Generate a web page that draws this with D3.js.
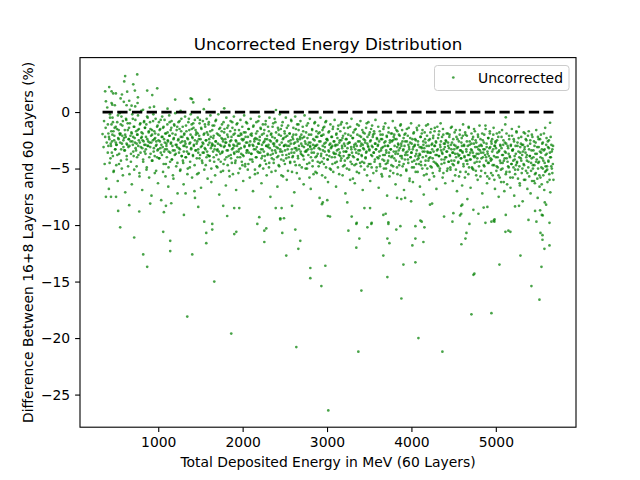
<!DOCTYPE html>
<html>
<head>
<meta charset="utf-8">
<script src="https://cdn.jsdelivr.net/npm/d3@7"></script>
<style>
  body { margin: 0; background: #fff; }
  text { font-family: "DejaVu Sans", sans-serif; }
</style>
</head>
<body>
<div id="chart"></div>
<script>
// values: [energy MeV, difference %]
const bandPoints = [
  [352,-3.1],[358,-0.8],[365,-4.6],[371,-2.2],[377,-1.4],[384,-5.9],[390,-2.7],[396,0.4],[402,-3.6],[409,-1.9],[415,-6.8],[421,-2.4],[428,-0.2],[434,-4.1],[440,-3.0],[446,-1.1],
  [452,-2.6],[458,-0.5],[463,-3.9],[469,-1.7],[474,-5.2],[480,-2.1],[486,0.6],[491,-3.3],[497,-1.3],[503,-4.7],[508,-2.9],[514,-0.9],[520,-6.1],[525,-2.3],[531,-1.6],[537,-3.7],[543,-0.1],[548,-2.0],
  [553,-1.9],[558,-4.3],[564,-0.4],[570,-2.8],[575,-1.2],[581,-5.6],[587,-2.5],[592,0.9],[598,-3.4],[604,-1.6],[609,-7.1],[615,-2.2],[621,-0.7],[626,-3.9],[632,-2.9],[638,-1.0],[643,-4.8],[649,-2.4],
  [654,-1.4],[659,-3.0],[665,0.2],[671,-2.1],[676,-4.4],[682,-1.8],[687,-6.4],[693,-2.6],[699,-0.6],[704,-3.5],[710,-1.3],[715,-5.1],[721,-2.3],[727,0.5],[732,-3.2],[738,-1.7],[744,-2.8],[749,-4.0],
  [754,-2.0],[760,-0.3],[765,-3.8],[771,-1.5],[777,-5.4],[782,-2.7],[788,-1.0],[793,-3.1],[799,0.1],[805,-2.2],[810,-6.9],[816,-1.9],[821,-4.2],[827,-2.6],[833,-0.8],[838,-3.5],[844,-1.4],[849,-2.9],
  [853,-3.3],[859,-1.1],[864,-4.9],[870,-2.4],[875,-0.5],[881,-3.0],[887,-1.8],[892,-5.8],[898,-2.7],[903,-0.9],[909,-3.7],[915,-2.1],[920,-7.4],[926,-1.6],[931,-4.3],[937,-2.5],[942,-0.2],[948,-3.2],
  [953,-1.7],[958,-3.9],[964,-2.3],[969,-0.6],[975,-5.2],[980,-2.9],[986,-1.3],[991,-3.4],[997,-6.3],[1002,-2.0],[1008,-0.9],[1013,-4.1],[1019,-2.6],[1024,-1.5],[1030,-3.6],[1035,-7.8],[1041,-2.2],[1047,-0.4],
  [1053,-3.1],[1058,-1.4],[1064,-4.6],[1069,-2.4],[1075,-0.7],[1080,-3.3],[1086,-5.7],[1091,-1.9],[1097,-2.8],[1102,-4.0],[1108,-1.1],[1113,-2.5],[1119,-6.6],[1124,-3.5],[1130,-0.3],[1135,-2.1],[1141,-4.4],[1147,-1.6],
  [1152,-2.7],[1158,-0.8],[1163,-4.2],[1169,-1.9],[1174,-3.4],[1180,-5.9],[1185,-2.3],[1191,-1.2],[1196,-3.8],[1202,-0.1],[1207,-2.9],[1213,-4.8],[1218,-1.6],[1224,-3.1],[1229,-7.2],[1235,-2.5],[1240,-0.9],[1246,-3.6],
  [1252,-1.5],[1257,-3.3],[1263,-5.1],[1268,-2.2],[1274,-0.6],[1279,-3.9],[1285,-2.6],[1290,-1.3],[1296,-4.5],[1301,-6.4],[1307,-2.0],[1312,-3.0],[1318,-0.4],[1323,-2.8],[1329,-4.0],[1334,-1.7],[1340,-3.5],[1346,-5.5],
  [1352,-2.4],[1357,-0.9],[1363,-3.7],[1368,-1.6],[1374,-4.9],[1379,-2.7],[1385,-0.2],[1390,-3.2],[1396,-1.1],[1401,-5.8],[1407,-2.3],[1412,-3.9],[1418,-1.4],[1423,-2.9],[1429,-7.0],[1434,-0.7],[1440,-3.4],[1446,-2.0],
  [1452,-1.8],[1457,-4.1],[1463,-2.6],[1468,-0.5],[1474,-3.3],[1479,-5.4],[1485,-2.1],[1490,-1.0],[1496,-3.8],[1501,-2.4],[1507,-6.7],[1512,-1.5],[1518,-3.0],[1523,-4.5],[1529,-0.8],[1534,-2.8],[1540,-3.6],[1546,-1.9],
  [1552,-3.2],[1557,-1.3],[1563,-4.7],[1568,-2.5],[1574,-0.6],[1579,-3.5],[1585,-5.9],[1590,-2.0],[1596,-1.1],[1601,-3.9],[1607,-2.7],[1612,-4.3],[1618,-0.3],[1623,-2.2],[1629,-6.2],[1634,-3.0],[1640,-1.6],[1646,-2.9],
  [1652,-2.3],[1657,-4.0],[1663,-1.2],[1668,-3.3],[1674,-5.6],[1679,-2.6],[1685,-0.7],[1690,-3.8],[1696,-1.9],[1701,-4.9],[1707,-2.8],[1712,-0.2],[1718,-3.5],[1723,-7.3],[1729,-2.1],[1734,-1.4],[1740,-4.4],[1746,-3.0],
  [1752,-1.7],[1757,-3.6],[1763,-2.4],[1768,-5.2],[1774,-0.9],[1779,-3.1],[1785,-1.5],[1790,-4.2],[1796,-2.7],[1801,-6.5],[1807,-0.5],[1812,-3.4],[1818,-2.0],[1823,-4.7],[1829,-1.2],[1834,-3.9],[1840,-2.9],[1846,-5.7],
  [1852,-2.6],[1857,-0.8],[1863,-4.1],[1868,-2.2],[1874,-3.3],[1879,-1.4],[1885,-5.5],[1890,-2.9],[1896,-0.4],[1901,-3.7],[1907,-1.9],[1912,-4.5],[1918,-2.5],[1923,-6.9],[1929,-1.1],[1934,-3.0],[1940,-4.0],[1946,-2.1],
  [1952,-3.5],[1957,-1.6],[1963,-2.8],[1968,-5.0],[1974,-0.7],[1979,-3.2],[1985,-2.0],[1990,-4.4],[1996,-1.3],[2001,-3.8],[2007,-6.1],[2012,-2.4],[2018,-0.3],[2023,-3.0],[2029,-4.8],[2034,-1.8],[2040,-2.7],[2046,-3.6],
  [2052,-1.0],[2057,-3.4],[2063,-2.2],[2068,-4.6],[2074,-1.5],[2079,-3.0],[2085,-5.8],[2090,-2.6],[2096,-0.6],[2101,-3.7],[2107,-1.9],[2112,-4.2],[2118,-2.9],[2123,-7.0],[2129,-1.2],[2134,-3.3],[2140,-2.4],[2146,-5.1],
  [2152,-2.3],[2157,-4.0],[2163,-0.9],[2168,-3.1],[2174,-1.7],[2179,-5.4],[2185,-2.8],[2190,-3.6],[2196,-0.4],[2201,-2.5],[2207,-4.7],[2212,-1.4],[2218,-3.3],[2223,-6.3],[2229,-2.0],[2234,-3.9],[2240,-1.1],[2246,-2.7],
  [2252,-3.5],[2257,-1.6],[2263,-4.3],[2268,-2.4],[2274,-0.8],[2279,-3.0],[2285,-5.6],[2290,-2.1],[2296,-3.8],[2301,-1.3],[2307,-2.9],[2312,-4.9],[2318,-0.5],[2323,-3.2],[2329,-7.5],[2334,-2.6],[2340,-1.9],[2346,-4.1],
  [2352,-2.2],[2357,-3.7],[2363,-1.0],[2368,-4.5],[2374,-2.8],[2379,-0.6],[2385,-3.4],[2390,-5.2],[2396,-1.8],[2401,-3.1],[2407,-2.5],[2412,-6.6],[2418,-1.4],[2423,-3.9],[2429,-2.0],[2434,-4.8],[2440,-0.2],[2446,-3.3],
  [2452,-1.5],[2457,-4.2],[2463,-2.7],[2468,-3.5],[2474,-0.9],[2479,-5.7],[2485,-2.3],[2490,-3.0],[2496,-1.7],[2501,-4.6],[2507,-2.9],[2512,-0.5],[2518,-3.8],[2523,-6.0],[2529,-2.1],[2534,-3.3],[2540,-1.2],[2546,-4.0],
  [2552,-3.0],[2557,-1.9],[2563,-4.4],[2568,-2.5],[2574,-0.7],[2579,-3.6],[2585,-5.3],[2590,-2.2],[2596,-3.9],[2601,-1.4],[2607,-2.8],[2612,-7.1],[2618,-3.2],[2623,-0.4],[2629,-4.7],[2634,-2.0],[2640,-3.4],[2646,-1.1],
  [2652,-2.6],[2657,-4.1],[2663,-1.6],[2668,-3.3],[2674,-5.9],[2679,-2.4],[2685,-0.8],[2690,-3.7],[2696,-2.0],[2701,-4.9],[2707,-3.0],[2712,-1.3],[2718,-3.9],[2723,-6.4],[2729,-2.2],[2734,-0.3],[2740,-3.5],[2746,-2.8],
  [2752,-1.8],[2757,-3.4],[2763,-5.0],[2768,-2.3],[2774,-1.0],[2779,-3.8],[2785,-2.7],[2790,-4.5],[2796,-0.6],[2801,-3.1],[2807,-6.8],[2812,-2.0],[2818,-3.6],[2823,-1.5],[2829,-4.3],[2834,-2.9],[2840,-5.5],[2846,-3.2],
  [2852,-2.5],[2857,-0.9],[2863,-4.0],[2868,-3.0],[2874,-1.7],[2879,-5.4],[2885,-2.2],[2890,-3.7],[2896,-1.2],[2901,-4.8],[2907,-2.6],[2912,-7.6],[2918,-3.3],[2923,-0.5],[2929,-3.9],[2934,-2.1],[2940,-4.4],[2946,-1.6],
  [2952,-3.4],[2957,-2.0],[2963,-4.6],[2968,-1.3],[2974,-3.1],[2979,-5.8],[2985,-2.7],[2990,-0.8],[2996,-3.8],[3001,-2.4],[3007,-4.2],[3012,-6.2],[3018,-1.8],[3023,-3.5],[3029,-2.9],[3034,-5.0],[3040,-1.1],[3046,-3.2],
  [3052,-2.2],[3057,-4.0],[3063,-3.0],[3068,-1.5],[3074,-5.3],[3079,-2.6],[3085,-3.7],[3090,-0.7],[3096,-4.5],[3101,-2.9],[3107,-6.6],[3112,-1.9],[3118,-3.4],[3123,-2.3],[3129,-4.9],[3134,-1.2],[3140,-3.8],[3146,-2.7],
  [3152,-3.6],[3157,-1.7],[3163,-4.3],[3168,-2.5],[3174,-0.9],[3179,-3.2],[3185,-5.6],[3190,-2.1],[3196,-3.9],[3201,-1.4],[3207,-4.7],[3212,-3.0],[3218,-7.2],[3223,-2.4],[3229,-3.5],[3234,-1.0],[3240,-4.1],[3246,-2.8],
  [3252,-2.0],[3257,-3.8],[3263,-5.1],[3268,-2.7],[3274,-1.3],[3279,-4.4],[3285,-3.1],[3290,-0.6],[3296,-3.6],[3301,-2.3],[3307,-5.9],[3312,-1.8],[3318,-4.0],[3323,-2.9],[3329,-6.3],[3334,-3.3],[3340,-1.5],[3346,-4.6],
  [3352,-3.0],[3357,-1.1],[3363,-4.2],[3368,-2.6],[3374,-3.7],[3379,-5.4],[3385,-2.1],[3390,-3.4],[3396,-0.8],[3401,-4.8],[3407,-2.8],[3412,-3.9],[3418,-1.6],[3423,-6.9],[3429,-3.2],[3434,-2.4],[3440,-4.5],[3446,-1.9],
  [3452,-2.7],[3457,-4.1],[3463,-1.4],[3468,-3.5],[3474,-5.6],[3479,-2.2],[3485,-3.0],[3490,-0.9],[3496,-4.6],[3501,-3.3],[3507,-1.8],[3512,-6.1],[3518,-2.5],[3523,-3.8],[3529,-4.9],[3534,-1.2],[3540,-3.1],[3546,-2.0],
  [3552,-3.6],[3557,-1.7],[3563,-4.4],[3568,-2.8],[3574,-0.7],[3579,-3.3],[3585,-5.2],[3590,-2.3],[3596,-4.0],[3601,-3.0],[3607,-1.3],[3612,-6.7],[3618,-2.6],[3623,-3.9],[3629,-4.8],[3634,-2.0],[3640,-3.4],[3646,-5.5],
  [3652,-2.4],[3657,-4.2],[3663,-3.1],[3668,-1.5],[3674,-5.0],[3679,-2.7],[3685,-3.8],[3690,-1.0],[3696,-4.6],[3701,-3.4],[3707,-2.1],[3712,-7.4],[3718,-3.0],[3723,-4.3],[3729,-1.8],[3734,-3.6],[3740,-5.7],[3746,-2.5],
  [3752,-3.3],[3757,-1.9],[3763,-4.7],[3768,-2.6],[3774,-3.9],[3779,-0.8],[3785,-5.4],[3790,-2.2],[3796,-4.1],[3801,-3.0],[3807,-1.4],[3812,-6.4],[3818,-3.5],[3823,-2.4],[3829,-4.9],[3834,-1.7],[3840,-3.7],[3846,-2.9],
  [3852,-2.0],[3857,-4.4],[3863,-3.2],[3868,-1.2],[3874,-5.6],[3879,-2.8],[3885,-3.9],[3890,-1.6],[3896,-4.8],[3901,-3.4],[3907,-2.3],[3912,-6.9],[3918,-3.0],[3923,-4.2],[3929,-1.9],[3934,-3.6],[3940,-5.2],[3946,-2.6],
  [3952,-3.8],[3957,-2.1],[3963,-4.5],[3968,-1.4],[3974,-3.3],[3979,-5.9],[3985,-2.7],[3990,-4.0],[3996,-1.0],[4001,-3.6],[4007,-4.9],[4012,-2.4],[4018,-6.2],[4023,-3.1],[4029,-1.8],[4034,-4.3],[4040,-2.9],[4046,-3.9],
  [4052,-2.5],[4057,-4.6],[4063,-3.4],[4068,-1.6],[4074,-5.3],[4079,-2.9],[4085,-4.1],[4090,-1.2],[4096,-3.7],[4101,-6.6],[4107,-2.2],[4112,-4.4],[4118,-3.1],[4123,-1.9],[4129,-5.0],[4134,-3.5],[4140,-2.6],[4146,-7.3],
  [4152,-3.2],[4157,-1.8],[4163,-4.7],[4168,-2.7],[4174,-3.9],[4179,-5.5],[4185,-2.1],[4190,-3.5],[4196,-1.1],[4201,-4.3],[4207,-3.0],[4212,-6.0],[4218,-2.4],[4223,-4.0],[4229,-3.6],[4234,-1.5],[4240,-4.9],[4246,-2.8],
  [4252,-4.1],[4257,-2.3],[4263,-3.5],[4268,-5.7],[4274,-1.7],[4279,-3.0],[4285,-4.5],[4290,-2.6],[4296,-6.8],[4301,-3.8],[4307,-1.3],[4312,-3.3],[4318,-4.8],[4323,-2.0],[4329,-3.9],[4334,-5.2],[4340,-2.9],[4346,-1.0],
  [4352,-3.4],[4357,-4.6],[4363,-2.2],[4368,-3.7],[4374,-1.5],[4379,-5.4],[4385,-2.8],[4390,-4.2],[4396,-3.1],[4401,-6.3],[4407,-2.5],[4412,-4.0],[4418,-1.9],[4423,-3.5],[4429,-5.0],[4434,-2.7],[4440,-4.4],[4446,-3.2],
  [4452,-2.0],[4457,-3.9],[4463,-5.1],[4468,-2.9],[4474,-4.3],[4479,-1.3],[4485,-3.6],[4490,-6.1],[4496,-2.4],[4501,-4.7],[4507,-3.3],[4512,-1.8],[4518,-5.6],[4523,-3.0],[4529,-4.0],[4534,-2.2],[4540,-7.0],[4546,-3.7],
  [4552,-3.1],[4557,-4.4],[4563,-2.6],[4568,-3.8],[4574,-1.6],[4579,-5.3],[4585,-3.4],[4590,-4.1],[4596,-2.3],[4601,-6.5],[4607,-3.6],[4612,-1.1],[4618,-4.8],[4623,-2.9],[4629,-3.9],[4634,-5.8],[4640,-2.0],[4646,-4.3],
  [4652,-3.5],[4657,-2.1],[4663,-4.6],[4668,-3.0],[4674,-5.5],[4679,-1.4],[4685,-3.8],[4690,-2.6],[4696,-4.2],[4701,-6.7],[4707,-3.3],[4712,-1.9],[4718,-4.9],[4723,-2.4],[4729,-3.6],[4734,-5.1],[4740,-2.8],[4746,-4.0],
  [4752,-1.7],[4757,-3.9],[4763,-5.2],[4768,-2.7],[4774,-4.4],[4779,-3.1],[4785,-6.0],[4790,-2.2],[4796,-3.7],[4801,-4.8],[4807,-1.2],[4812,-3.4],[4818,-5.7],[4823,-2.9],[4829,-4.1],[4834,-3.0],[4840,-7.2],[4846,-2.5],
  [4852,-3.6],[4857,-4.7],[4863,-2.0],[4868,-3.3],[4874,-5.4],[4879,-1.5],[4885,-4.0],[4890,-2.8],[4896,-6.3],[4901,-3.5],[4907,-4.5],[4912,-2.3],[4918,-3.9],[4923,-5.9],[4929,-1.9],[4934,-3.1],[4940,-4.3],[4946,-2.6],
  [4952,-4.2],[4957,-2.4],[4963,-5.6],[4968,-3.3],[4974,-1.4],[4979,-4.7],[4985,-3.0],[4990,-6.8],[4996,-2.7],[5001,-4.0],[5007,-5.2],[5012,-1.9],[5018,-3.6],[5023,-4.9],[5029,-2.2],[5034,-7.5],[5040,-3.4],[5046,-5.8],
  [5052,-2.9],[5057,-4.5],[5063,-6.2],[5068,-3.2],[5074,-1.6],[5079,-5.0],[5085,-3.8],[5090,-2.5],[5096,-4.3],[5101,-7.0],[5107,-3.5],[5112,-1.1],[5118,-5.5],[5123,-2.8],[5129,-4.1],[5134,-6.4],[5140,-3.0],[5146,-4.8],
  [5152,-3.7],[5157,-2.1],[5163,-5.3],[5168,-4.0],[5174,-6.7],[5179,-2.9],[5185,-4.6],[5190,-1.5],[5196,-3.4],[5201,-5.8],[5207,-4.3],[5212,-2.4],[5218,-7.4],[5223,-3.9],[5229,-5.1],[5234,-3.0],[5240,-4.7],[5246,-1.8],
  [5252,-4.4],[5257,-2.7],[5263,-5.9],[5268,-3.5],[5274,-1.3],[5279,-4.8],[5285,-6.5],[5290,-3.1],[5296,-4.1],[5301,-2.2],[5307,-5.4],[5312,-3.8],[5318,-7.9],[5323,-2.9],[5329,-4.6],[5334,-6.0],[5340,-3.3],[5346,-1.9],
  [5352,-3.6],[5357,-5.2],[5363,-2.5],[5368,-4.3],[5374,-6.8],[5379,-3.0],[5385,-4.9],[5390,-1.7],[5396,-5.7],[5401,-3.9],[5407,-2.8],[5412,-7.2],[5418,-4.5],[5423,-3.4],[5429,-6.1],[5434,-2.2],[5440,-5.0],[5446,-4.0],
  [5452,-2.6],[5457,-4.7],[5463,-6.3],[5468,-3.7],[5474,-5.4],[5479,-1.6],[5485,-4.2],[5490,-3.1],[5496,-7.6],[5501,-5.0],[5507,-2.4],[5512,-4.4],[5518,-6.6],[5523,-3.5],[5529,-5.8],[5534,-2.0],[5540,-4.9],[5546,-3.3],
  [5552,-4.1],[5557,-2.7],[5563,-5.6],[5568,-3.4],[5574,-6.9],[5579,-4.5],[5585,-1.4],[5590,-3.8],[5596,-5.2],[5601,-2.3],[5607,-4.8],[5612,-6.2],[5618,-3.1],[5623,-4.3],[5629,-2.5],[5634,-5.5],[5640,-3.6],[5646,-7.1],
  [5652,-4.0],[5658,-2.9],[5664,-5.0],[5670,-3.3],[5676,-4.6],[5683,-6.0]
];

// the dense core of the band
const corePoints = [
  [403,-1.1],[409,-3.0],[416,-2.2],[424,-4.5],[429,-0.5],[437,-2.8],[444,-1.7],[450,-3.6],[457,-2.0],[463,-0.9],[470,-5.3],[478,-2.5],[483,-1.4],[490,-3.3],[497,-2.7],
  [502,-2.9],[511,-1.5],[515,-3.8],[522,-0.3],[531,-2.4],[535,-4.6],[542,-1.9],[549,-2.7],[555,-1.1],[561,-3.3],[568,-5.0],[574,-2.1],[581,-0.8],[588,-3.1],[594,-2.3],
  [605,-3.4],[608,-2.0],[618,-0.6],[625,-2.8],[627,-4.2],[639,-1.6],[646,-3.1],[653,-2.4],[659,-5.5],[664,-1.0],[672,-2.6],[677,-3.7],[686,-1.9],[692,-0.2],[699,-2.9],
  [703,-2.2],[709,-3.9],[716,-1.3],[724,-2.7],[729,-0.7],[737,-3.4],[744,-4.8],[750,-2.0],[757,-1.6],[763,-3.0],[770,-2.5],[778,-5.7],[783,-1.1],[790,-3.6],[797,-2.3],
  [802,-1.8],[811,-3.2],[815,-2.5],[822,-4.4],[831,-0.9],[835,-2.9],[842,-1.4],[849,-3.7],[855,-2.2],[861,-5.1],[868,-0.4],[874,-3.0],[881,-2.6],[888,-1.7],[894,-4.0],
  [905,-3.1],[908,-1.5],[918,-2.7],[925,-4.3],[927,-2.0],[939,-0.8],[946,-3.5],[953,-2.4],[959,-5.4],[964,-1.9],[972,-3.0],[977,-2.6],[986,-4.0],[992,-1.2],[999,-3.3],
  [1003,-2.5],[1009,-4.1],[1016,-1.6],[1024,-3.2],[1029,-0.7],[1037,-2.9],[1044,-3.8],[1050,-2.2],[1057,-5.3],[1063,-1.3],[1070,-3.5],[1078,-2.7],[1083,-1.9],[1090,-4.6],[1097,-3.0],
  [1102,-3.3],[1111,-1.8],[1115,-2.6],[1122,-4.9],[1131,-2.1],[1135,-0.9],[1142,-3.6],[1149,-2.8],[1155,-1.4],[1161,-4.2],[1168,-3.0],[1174,-5.6],[1181,-2.4],[1188,-1.1],[1194,-3.4],
  [1205,-2.0],[1208,-3.7],[1218,-2.9],[1225,-1.3],[1227,-4.5],[1239,-2.4],[1246,-3.2],[1253,-0.8],[1259,-5.2],[1264,-2.7],[1272,-1.7],[1277,-3.9],[1286,-2.2],[1292,-4.3],[1299,-3.0],
  [1303,-3.5],[1309,-1.9],[1316,-2.6],[1324,-4.0],[1329,-1.2],[1337,-3.1],[1344,-2.3],[1350,-5.0],[1357,-3.7],[1363,-0.6],[1370,-2.8],[1378,-4.4],[1383,-2.0],[1390,-3.3],[1397,-1.5],
  [1402,-2.2],[1411,-3.8],[1415,-1.0],[1422,-3.0],[1431,-4.7],[1435,-2.5],[1442,-1.6],[1449,-3.4],[1455,-2.8],[1461,-5.5],[1468,-1.9],[1474,-3.6],[1481,-2.4],[1488,-4.1],[1494,-0.7],
  [1505,-3.1],[1508,-1.4],[1518,-4.3],[1525,-2.7],[1527,-3.6],[1539,-2.0],[1546,-5.1],[1553,-1.1],[1559,-3.3],[1564,-2.5],[1572,-4.0],[1577,-1.8],[1586,-3.8],[1592,-2.9],[1599,-0.9],
  [1603,-2.4],[1609,-3.9],[1616,-1.7],[1624,-3.2],[1629,-5.0],[1637,-2.8],[1644,-1.2],[1650,-3.5],[1657,-2.1],[1663,-4.4],[1670,-3.0],[1678,-0.8],[1683,-2.6],[1690,-4.8],[1697,-3.4],
  [1702,-3.3],[1711,-2.0],[1715,-4.2],[1722,-1.5],[1731,-2.9],[1735,-3.7],[1742,-5.3],[1749,-2.3],[1755,-1.1],[1761,-3.5],[1768,-2.6],[1774,-4.6],[1781,-1.8],[1788,-3.0],[1794,-2.4],
  [1805,-2.7],[1808,-4.0],[1818,-1.4],[1825,-3.4],[1827,-2.2],[1839,-5.2],[1846,-3.0],[1853,-1.7],[1859,-3.8],[1864,-2.5],[1872,-4.5],[1877,-0.9],[1886,-3.2],[1892,-2.0],[1899,-3.6],
  [1903,-3.0],[1909,-1.6],[1916,-4.3],[1924,-2.6],[1929,-3.5],[1937,-1.0],[1944,-2.8],[1950,-5.4],[1957,-3.3],[1963,-2.1],[1970,-4.0],[1978,-1.9],[1983,-3.7],[1990,-2.4],[1997,-4.7],
  [2002,-2.5],[2011,-3.9],[2015,-1.8],[2022,-3.1],[2031,-4.6],[2035,-2.2],[2042,-0.9],[2049,-3.4],[2055,-2.7],[2061,-5.1],[2068,-1.5],[2074,-3.6],[2081,-2.9],[2088,-4.2],[2094,-2.0],
  [2105,-3.7],[2108,-2.1],[2118,-4.4],[2125,-1.3],[2127,-3.0],[2139,-2.6],[2146,-5.5],[2153,-3.3],[2159,-1.9],[2164,-4.0],[2172,-2.4],[2177,-3.5],[2186,-0.8],[2192,-2.8],[2199,-4.8],
  [2203,-2.2],[2209,-3.6],[2216,-1.5],[2224,-4.1],[2229,-2.9],[2237,-3.3],[2244,-5.0],[2250,-1.9],[2257,-2.6],[2263,-3.9],[2270,-1.1],[2278,-4.6],[2283,-3.0],[2290,-2.4],[2297,-3.7],
  [2302,-3.1],[2311,-1.7],[2315,-4.5],[2322,-2.5],[2331,-3.8],[2335,-2.0],[2342,-5.3],[2349,-3.4],[2355,-1.3],[2361,-2.8],[2368,-4.2],[2374,-3.0],[2381,-2.3],[2388,-0.9],[2394,-3.6],
  [2405,-2.6],[2408,-4.0],[2418,-3.2],[2425,-1.6],[2427,-4.7],[2439,-2.9],[2446,-3.5],[2453,-2.1],[2459,-5.6],[2464,-1.2],[2472,-3.8],[2477,-2.4],[2486,-4.3],[2492,-3.0],[2499,-1.9],
  [2503,-3.4],[2509,-2.2],[2516,-4.1],[2524,-1.4],[2529,-3.0],[2537,-5.2],[2544,-2.6],[2550,-3.7],[2557,-1.9],[2563,-4.5],[2570,-2.8],[2578,-0.8],[2583,-3.3],[2590,-4.0],[2597,-2.4],
  [2602,-2.0],[2611,-3.6],[2615,-4.4],[2622,-2.7],[2631,-1.5],[2635,-3.2],[2642,-5.4],[2649,-2.4],[2655,-3.9],[2661,-1.1],[2668,-3.0],[2674,-4.7],[2681,-2.2],[2688,-3.5],[2694,-2.8],
  [2705,-3.8],[2708,-2.3],[2718,-1.7],[2725,-4.2],[2727,-3.1],[2739,-2.6],[2746,-5.0],[2753,-3.5],[2759,-1.2],[2764,-4.6],[2772,-2.9],[2777,-3.3],[2786,-2.0],[2792,-5.8],[2799,-3.0],
  [2803,-2.7],[2809,-4.0],[2816,-3.3],[2824,-1.6],[2829,-4.8],[2837,-2.4],[2844,-3.6],[2850,-1.0],[2857,-3.0],[2863,-5.3],[2870,-2.2],[2878,-3.9],[2883,-2.9],[2890,-4.4],[2897,-1.9],
  [2902,-3.2],[2911,-1.8],[2915,-4.5],[2922,-2.6],[2931,-3.7],[2935,-2.1],[2942,-5.6],[2949,-3.0],[2955,-1.4],[2961,-4.1],[2968,-2.8],[2974,-3.5],[2981,-0.9],[2988,-4.9],[2994,-2.4],
  [3005,-2.5],[3008,-4.2],[3018,-3.4],[3025,-1.7],[3027,-3.9],[3039,-2.8],[3046,-5.1],[3053,-3.1],[3059,-2.2],[3064,-4.6],[3072,-1.3],[3077,-3.6],[3086,-2.6],[3092,-4.0],[3099,-3.0],
  [3103,-3.7],[3109,-2.0],[3116,-4.4],[3124,-2.9],[3129,-1.5],[3137,-3.3],[3144,-5.5],[3150,-2.5],[3157,-3.9],[3163,-1.1],[3170,-4.1],[3178,-3.0],[3183,-2.3],[3190,-4.8],[3197,-3.5],
  [3202,-2.8],[3211,-4.3],[3215,-1.9],[3222,-3.5],[3231,-2.4],[3235,-5.0],[3242,-3.2],[3249,-1.4],[3255,-4.0],[3261,-2.7],[3268,-3.8],[3274,-6.0],[3281,-2.1],[3288,-3.3],[3294,-4.6],
  [3305,-3.9],[3308,-2.3],[3318,-3.1],[3325,-4.7],[3327,-1.6],[3339,-2.8],[3346,-3.6],[3353,-5.3],[3359,-2.0],[3364,-4.2],[3372,-3.4],[3377,-1.2],[3386,-2.6],[3392,-4.5],[3399,-3.0],
  [3403,-2.2],[3409,-3.8],[3416,-4.4],[3424,-2.9],[3429,-1.8],[3437,-3.3],[3444,-5.1],[3450,-2.5],[3457,-4.0],[3463,-3.6],[3470,-1.0],[3478,-2.8],[3483,-4.8],[3490,-3.1],[3497,-2.0],
  [3502,-3.4],[3511,-2.6],[3515,-4.6],[3522,-1.5],[3531,-3.0],[3535,-3.9],[3542,-2.2],[3549,-5.4],[3555,-3.6],[3561,-1.9],[3568,-4.2],[3574,-2.8],[3581,-3.3],[3588,-4.9],[3594,-2.4],
  [3605,-2.9],[3608,-4.1],[3618,-3.5],[3625,-1.7],[3627,-4.6],[3639,-2.4],[3646,-3.2],[3653,-5.7],[3659,-2.0],[3664,-3.8],[3672,-1.3],[3677,-4.3],[3686,-3.0],[3692,-2.6],[3699,-5.0],
  [3703,-3.6],[3709,-2.2],[3716,-4.5],[3724,-3.0],[3729,-1.4],[3737,-3.9],[3744,-2.7],[3750,-5.2],[3757,-3.3],[3763,-4.0],[3770,-1.9],[3778,-2.5],[3783,-4.8],[3790,-3.5],[3797,-2.0],
  [3802,-2.4],[3811,-3.7],[3815,-4.3],[3822,-1.6],[3831,-3.1],[3835,-5.5],[3842,-2.8],[3849,-3.4],[3855,-4.7],[3861,-2.1],[3868,-3.9],[3874,-1.1],[3881,-3.0],[3888,-4.1],[3894,-2.6],
  [3905,-3.3],[3908,-4.6],[3918,-2.0],[3925,-3.8],[3927,-2.6],[3939,-5.1],[3946,-1.5],[3953,-3.5],[3959,-4.2],[3964,-2.9],[3972,-3.1],[3977,-6.1],[3986,-2.3],[3992,-4.0],[3999,-3.6],
  [4003,-2.8],[4009,-4.4],[4016,-3.3],[4024,-1.9],[4029,-4.9],[4037,-3.0],[4044,-2.4],[4050,-5.3],[4057,-3.7],[4063,-1.4],[4070,-4.2],[4078,-2.6],[4083,-3.9],[4090,-4.6],[4097,-3.1],
  [4102,-3.8],[4111,-2.2],[4115,-4.7],[4122,-3.2],[4131,-1.6],[4135,-4.0],[4142,-2.9],[4149,-5.6],[4155,-3.5],[4161,-2.4],[4168,-4.3],[4174,-1.2],[4181,-3.0],[4188,-5.0],[4194,-3.6],
  [4205,-2.5],[4208,-4.1],[4218,-3.6],[4225,-1.8],[4227,-4.8],[4239,-2.9],[4246,-3.3],[4253,-5.4],[4259,-2.1],[4264,-4.4],[4272,-3.0],[4277,-1.4],[4286,-3.8],[4292,-2.7],[4299,-4.6],
  [4303,-3.4],[4309,-4.7],[4316,-2.3],[4324,-3.9],[4329,-1.7],[4337,-5.0],[4344,-3.1],[4350,-2.6],[4357,-4.2],[4363,-3.6],[4370,-5.8],[4378,-2.0],[4383,-3.3],[4390,-4.5],[4397,-2.8],
  [4402,-4.0],[4411,-2.6],[4415,-3.5],[4422,-5.2],[4431,-1.9],[4435,-3.0],[4442,-4.4],[4449,-2.2],[4455,-3.8],[4461,-4.9],[4468,-1.4],[4474,-3.3],[4481,-2.7],[4488,-4.6],[4494,-3.6],
  [4505,-2.9],[4508,-4.3],[4518,-3.7],[4525,-1.6],[4527,-5.1],[4539,-3.2],[4546,-2.4],[4553,-4.5],[4559,-3.9],[4564,-5.7],[4572,-2.0],[4577,-3.4],[4586,-4.1],[4592,-2.7],[4599,-3.0],
  [4603,-3.5],[4609,-2.1],[4616,-4.6],[4624,-3.0],[4629,-4.0],[4637,-1.8],[4644,-5.3],[4650,-3.3],[4657,-2.6],[4663,-4.3],[4670,-3.8],[4678,-1.3],[4683,-4.9],[4690,-2.9],[4697,-3.6],
  [4702,-4.2],[4711,-2.8],[4715,-3.4],[4722,-5.0],[4731,-2.2],[4735,-3.9],[4742,-1.5],[4749,-4.5],[4755,-3.1],[4761,-2.5],[4768,-5.6],[4774,-3.7],[4781,-4.1],[4788,-2.0],[4794,-3.3],
  [4805,-3.0],[4808,-4.4],[4818,-2.4],[4825,-3.6],[4827,-5.2],[4839,-1.9],[4846,-4.0],[4853,-3.3],[4859,-2.7],[4864,-4.8],[4872,-3.8],[4877,-1.2],[4886,-4.3],[4892,-3.1],[4899,-5.7],
  [4903,-3.7],[4909,-2.3],[4916,-4.5],[4924,-3.2],[4929,-1.7],[4937,-4.1],[4944,-5.4],[4950,-2.8],[4957,-3.5],[4963,-4.7],[4970,-2.0],[4978,-3.9],[4983,-6.0],[4990,-3.0],[4997,-2.6],
  [5002,-3.2],[5011,-4.8],[5015,-2.5],[5022,-4.0],[5031,-5.6],[5035,-3.5],[5042,-1.8],[5049,-4.3],[5055,-3.0],[5061,-5.1],[5068,-2.2],[5074,-3.8],[5081,-4.5],[5088,-2.9],[5094,-6.2],
  [5105,-4.1],[5108,-2.7],[5118,-3.6],[5125,-5.3],[5127,-1.9],[5139,-4.4],[5146,-3.2],[5153,-4.9],[5159,-2.4],[5164,-3.9],[5172,-5.8],[5177,-3.0],[5186,-4.6],[5192,-2.1],[5199,-3.4],
  [5203,-3.3],[5209,-4.9],[5216,-2.6],[5224,-4.2],[5229,-5.5],[5237,-3.7],[5244,-1.7],[5250,-4.5],[5257,-3.0],[5263,-5.1],[5270,-2.3],[5278,-4.0],[5283,-6.3],[5290,-3.6],[5297,-2.8],
  [5302,-4.3],[5311,-2.9],[5315,-5.0],[5322,-3.5],[5331,-1.8],[5335,-4.7],[5342,-3.1],[5349,-6.0],[5355,-2.4],[5361,-4.0],[5368,-3.8],[5374,-5.4],[5381,-2.1],[5388,-4.4],[5394,-3.3],
  [5405,-3.9],[5408,-2.5],[5418,-5.2],[5425,-4.1],[5427,-2.0],[5439,-4.7],[5446,-3.4],[5453,-6.1],[5459,-3.0],[5464,-5.5],[5472,-2.7],[5477,-4.4],[5486,-3.7],[5492,-5.9],[5499,-2.2],
  [5503,-4.5],[5509,-3.1],[5516,-5.6],[5524,-2.4],[5529,-4.0],[5537,-3.6],[5544,-6.4],[5550,-2.8],[5557,-5.0],[5563,-4.3],[5570,-1.9],[5578,-3.3],[5583,-5.3],[5590,-4.8],[5597,-2.9],
  [5603,-3.7],[5609,-5.1],[5616,-2.6],[5624,-4.4],[5629,-3.2],[5637,-6.0],[5644,-4.0],[5650,-2.2],[5657,-4.8],[5663,-3.5],[5670,-5.4],[5678,-3.0]
];

// points above the zero line
const upperPoints = [
  [340,-1.95],[751,3.33],[608,3.18],[597,2.71],[704,2.45],[419,2.21],[371,1.83],[447,1.83],[466,1.65],[498,1.65],
  [632,1.8],[723,1.9],[988,2.1],[869,1.9],[929,1.5],[759,1.3],[570,1.55],[554,1.2],[380,0.95],[447,0.8],[455,0.65],
  [656,1.0],[684,0.56],[755,0.8],[950,0.47],[900,0.4],[1201,1.1],[1384,1.2],[1400,1.15],[1415,0.85],[1605,1.1],[625,0.6],
  [1782,0.33],[2395,0.18],[1110,0.3],[1540,0.25],[820,0.2],[1265,0.1],[5118,-0.47],[5643,-0.95]
];

// lower tail and outliers
const lowerPoints = [
  [549,-10.2],[715,-11.1],[822,-12.6],[869,-13.7],[1059,-10.6],[1142,-11.4],[1142,-12.3],[1403,-12.6],[1344,-18.1],
  [1545,-9.7],[1640,-9.9],[1569,-10.7],[1640,-10.4],[1569,-11.6],[1664,-15.0],[1865,-19.6],[1901,-10.8],[1925,-10.6],
  [2174,-9.9],[2257,-10.5],[2280,-10.3],[2257,-11.5],[2446,-9.5],[2470,-10.7],[2517,-12.7],[2624,-10.4],[2683,-11.4],
  [2660,-12.1],[2636,-20.8],[2802,-13.8],[2802,-14.7],[2933,-15.4],[2980,-13.6],[3015,-26.4],
  [3253,-10.5],[3347,-9.9],[3383,-11.2],[3347,-12.0],[3407,-15.8],[3371,-21.2],[3478,-10.2],[3525,-9.9],[3667,-12.7],
  [3715,-11.2],[3739,-11.6],[3727,-9.9],[3715,-14.6],[3821,-10.4],[3869,-10.1],[3905,-13.5],[3881,-16.5],[4011,-11.8],
  [4047,-11.2],[4047,-10.1],[4106,-9.6],[4154,-10.2],[4142,-11.5],[4047,-13.3],[4083,-20.0],[4367,-21.2],[4486,-9.7],
  [4592,-11.7],[4640,-11.2],[4652,-10.7],[4687,-9.9],[4735,-14.4],[4746,-14.3],[4711,-17.9],[4877,-9.8],[4948,-9.7],
  [4983,-9.7],[4948,-17.8],[5043,-13.5],[5114,-10.6],[5149,-10.5],[5173,-10.6],[5292,-12.7],[5422,-15.4],[5517,-16.6],
  [5541,-13.7],[5529,-10.7],[5553,-10.9],[5553,-11.3],[5576,-12.1],[5636,-11.8],[5636,-9.8],[5481,-9.7],
  [525,-8.75],[380,-7.5],[440,-7.5],[500,-7.5],[656,-8.24],[775,-8.8],[905,-8.1],[1091,-8.3],[1154,-8.07],[1067,-8.86],
  [1304,-9.1],[1474,-8.4],[1435,-7.6],[1324,-7.2],[2197,-9.3],[2446,-9.4],[2490,-9.4],[1770,-8.3],[1900,-8.5],[1960,-8.5],
  [1817,-9.2],[2392,-8.5],[2462,-8.5],[2585,-8.3],[2940,-8.15],[2950,-8.0],[3003,-7.8],[3035,-9.25],[3010,-9.2],[3240,-8.0],
  [3292,-9.25],[3352,-9.8],[3529,-9.8],[3727,-9.75],[3443,-8.5],[3510,-8.5],[3667,-9.1],[3695,-9.0],[3830,-7.6],[3880,-7.7],
  [3925,-7.6],[3996,-7.9],[4122,-9.7],[4220,-8.2],[4245,-8.1],[4387,-9.25],[4497,-8.95],[4576,-9.15],[4590,-9.0],[4603,-8.2],
  [4590,-8.3],[4734,-8.65],[4663,-7.7],[4794,-9.0],[4856,-8.45],[4900,-8.4],[4976,-9.6],[4985,-9.5],[5118,-9.1],[5228,-8.35],
  [5275,-8.3],[5387,-9.55],[5465,-8.75],[5525,-8.7],[5556,-9.15],[5545,-9.1],[5596,-8.2],[5580,-8.0]
];

const xTicks = [1000, 2000, 3000, 4000, 5000];
const yTicks = [0, -5, -10, -15, -20, -25];
const refLevel = 0;
const chartTitle = 'Uncorrected Energy Distribution';
const xLabel = 'Total Deposited Energy in MeV (60 Layers)';
const yLabel = 'Difference Between 16+8 Layers and 60 Layers (%)';
const seriesName = 'Uncorrected';

const WIDTH = 640;
const HEIGHT = 480;
const LEFT = 80, RIGHT = 576, TOP = 57.6, BOTTOM = 427.2;
const TICK = 4.9;
const FONT = 13.9;
const DOT = 1.35;

const allPoints = bandPoints.concat(corePoints, upperPoints, lowerPoints);

const padExtent = ext => {
  // matplotlib style 5% margin on each side
  const pad = (ext[1] - ext[0]) * 0.05;
  return [ext[0] - pad, ext[1] + pad];
};

const xExt = d3.extent(allPoints, d => d[0]);
const yExt = d3.extent(allPoints, d => d[1]);

const xScale = d3.scaleLinear().domain(padExtent(xExt)).range([LEFT, RIGHT]);
const yScale = d3.scaleLinear().domain(padExtent(yExt)).range([BOTTOM, TOP]);

const svg = d3.select('#chart')
              .append('svg')
              .attr('width', WIDTH)
              .attr('height', HEIGHT);

svg.append('rect')
   .attr('width', WIDTH)
   .attr('height', HEIGHT)
   .attr('fill', '#fff');

// scatter
svg.append('g')
   .selectAll('circle')
   .data(allPoints)
   .enter()
   .append('circle')
   .attr('cx', d => xScale(d[0]))
   .attr('cy', d => yScale(d[1]))
   .attr('r', DOT)
   .attr('fill', '#008000')
   .attr('fill-opacity', 0.72);

// dashed zero line over the data range
svg.append('line')
   .attr('x1', xScale(xExt[0]))
   .attr('x2', xScale(xExt[1]))
   .attr('y1', yScale(refLevel))
   .attr('y2', yScale(refLevel))
   .attr('stroke', '#000')
   .attr('stroke-width', 2.8)
   .attr('stroke-dasharray', '10.3,4.4');

const xAxis = d3.axisBottom(xScale)
                .tickValues(xTicks)
                .tickFormat(d3.format('d'))
                .tickSizeInner(TICK)
                .tickSizeOuter(0)
                .tickPadding(4.9);

const yAxis = d3.axisLeft(yScale)
                .tickValues(yTicks)
                .tickFormat(d3.format('d'))
                .tickSizeInner(TICK)
                .tickSizeOuter(0)
                .tickPadding(4.9);

const xAx = svg.append('g')
               .attr('transform', `translate(0, ${BOTTOM})`)
               .call(xAxis);

const yAx = svg.append('g')
               .attr('transform', `translate(${LEFT}, 0)`)
               .call(yAxis);

[xAx, yAx].forEach(ax => {
  ax.select('.domain').remove();
  ax.selectAll('line').attr('stroke', '#000').attr('stroke-width', 1.1);
  ax.selectAll('text')
    .attr('fill', '#000')
    .style('font-size', `${FONT}px`)
    .style('font-family', '"DejaVu Sans", sans-serif');
});

// frame
svg.append('rect')
   .attr('x', LEFT)
   .attr('y', TOP)
   .attr('width', RIGHT - LEFT)
   .attr('height', BOTTOM - TOP)
   .attr('fill', 'none')
   .attr('stroke', '#000')
   .attr('stroke-width', 1.1);

svg.append('text')
   .attr('x', (LEFT + RIGHT) / 2)
   .attr('y', 49.5)
   .attr('text-anchor', 'middle')
   .style('font-size', '16.7px')
   .text(chartTitle);

svg.append('text')
   .attr('x', (LEFT + RIGHT) / 2)
   .attr('y', 467)
   .attr('text-anchor', 'middle')
   .style('font-size', `${FONT}px`)
   .text(xLabel);

svg.append('text')
   .attr('transform', `translate(32.5, ${(TOP + BOTTOM) / 2}) rotate(-90)`)
   .attr('text-anchor', 'middle')
   .style('font-size', `${FONT}px`)
   .text(yLabel);

// legend
const legend = svg.append('g');

legend.append('rect')
      .attr('x', 434.5)
      .attr('y', 65.5)
      .attr('width', 134.5)
      .attr('height', 25)
      .attr('rx', 3)
      .attr('fill', '#fff')
      .attr('fill-opacity', 0.8)
      .attr('stroke', '#cccccc')
      .attr('stroke-width', 1);

legend.append('circle')
      .attr('cx', 453.3)
      .attr('cy', 77.5)
      .attr('r', DOT)
      .attr('fill', '#008000')
      .attr('fill-opacity', 0.72);

legend.append('text')
      .attr('x', 478)
      .attr('y', 82.5)
      .style('font-size', `${FONT}px`)
      .text(seriesName);
</script>
</body>
</html>
